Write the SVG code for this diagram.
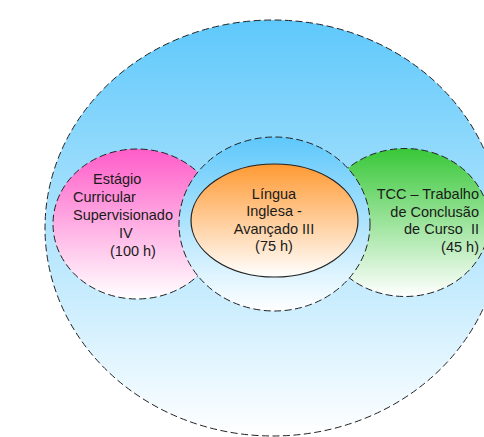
<svg xmlns="http://www.w3.org/2000/svg" width="484" height="437" viewBox="0 0 484 437">
<defs>
<linearGradient id="gBlue" x1="0" y1="0" x2="0" y2="1"><stop offset="0" stop-color="#5EC8FB"/><stop offset="1" stop-color="#FFFFFF"/></linearGradient>
<linearGradient id="gPink" x1="0" y1="0" x2="0" y2="1"><stop offset="0" stop-color="#FF5CC8"/><stop offset="1" stop-color="#FFFFFF"/></linearGradient>
<linearGradient id="gGreen" x1="0" y1="0" x2="0" y2="1"><stop offset="0" stop-color="#38C838"/><stop offset="1" stop-color="#FFFFFF"/></linearGradient>
<linearGradient id="gOrange" x1="0" y1="0" x2="0" y2="1"><stop offset="0" stop-color="#FF9A33"/><stop offset="1" stop-color="#FFFFFF"/></linearGradient>
</defs>
<style>
.dash{stroke:#222;stroke-width:1;stroke-dasharray:7 3.5}
.solid{stroke:#222;stroke-width:1.2}
text{font-family:"Liberation Sans",Arial,sans-serif;font-size:14.5px;fill:#1a1a1a}
.c{text-anchor:middle}
.r{text-anchor:end}
</style>
<rect width="484" height="437" fill="#FFFFFF"/>
<g id="outer">
<ellipse cx="273" cy="228" rx="228" ry="208" fill="url(#gBlue)" class="dash"/>
</g>
<g id="estagio">
<ellipse cx="137" cy="224" rx="84" ry="75" fill="url(#gPink)" class="dash"/>
<text x="93" y="184">Estágio</text>
<text x="73" y="202">Curricular</text>
<text x="73" y="220">Supervisionado</text>
<text x="119" y="237.5">IV</text>
<text x="110" y="255.5">(100 h)</text>
</g>
<g id="tcc">
<ellipse cx="405" cy="222.5" rx="84" ry="74" fill="url(#gGreen)" class="dash"/>
</g>
<g id="middle">
<ellipse cx="274.5" cy="224" rx="95.5" ry="87" fill="url(#gBlue)" class="dash"/>
</g>
<g id="lingua">
<ellipse cx="274.5" cy="220.5" rx="83.5" ry="56.5" fill="url(#gOrange)" class="solid"/>
<text class="c" x="274" y="198.5">Língua</text>
<text class="c" x="274" y="216">Inglesa -</text>
<text class="c" x="274" y="233.5">Avançado III</text>
<text class="c" x="274" y="251">(75 h)</text>
</g>
<g id="tcc-label">
<text class="r" x="479" y="199">TCC – Trabalho</text>
<text class="r" x="479" y="216.5">de Conclusão</text>
<text class="r" x="479" y="234" xml:space="preserve">de Curso  II</text>
<text class="r" x="479" y="251.5">(45 h)</text>
</g>
</svg>
